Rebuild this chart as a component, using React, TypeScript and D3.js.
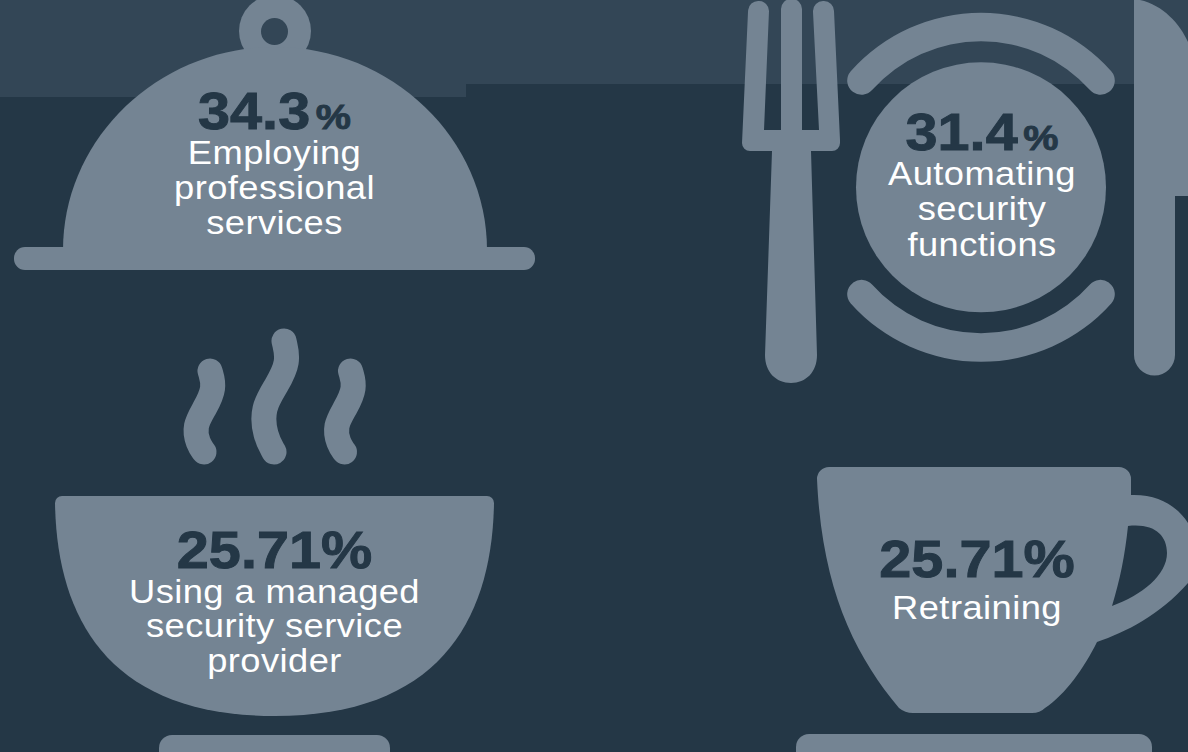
import React from "react";
import * as d3 from "d3";

const width = 1188;
const height = 752;

const bg = "#243746";
const band = "#334656";
const iconFill = "#748493";

// one entry per icon: bell, plate, bowl, cup
const values = ["34.3", "31.4", "25.71", "25.71"];
const labels = [
  ["Employing", "professional", "services"],
  ["Automating", "security", "functions"],
  ["Using a managed", "security service", "provider"],
  ["Retraining"],
];
const centers = [274.5, 982, 274.5, 977];
const numberBaselines = [128.5, 150, 568, 576.5];
const labelBaselines = [163.5, 184.5, 602.5, 618.5];
const lineSteps = [35, 35.7, 34.6, 35];
const smallPercent = [true, true, false, false];

const steamLeft: [number, number][] = [[210, 371], [215, 388], [205, 408], [194, 426], [198, 444], [204, 452]];
const steamMid: [number, number][] = [[284, 341], [289, 362], [277, 385], [262, 408], [265, 436], [274, 452]];
const steamRight: [number, number][] = steamLeft.map(([x, y]) => [x + 140.5, y]);

const bandPath = () => {
  const p = d3.path();
  p.moveTo(0, 0);
  p.lineTo(width, 0);
  p.lineTo(width, 84);
  p.lineTo(466, 84);
  p.lineTo(466, 97);
  p.lineTo(0, 97);
  p.closePath();
  return p.toString();
};

const bellDome = () => {
  const p = d3.path();
  p.moveTo(63, 250);
  p.bezierCurveTo(63, 139, 158, 47, 275, 47);
  p.bezierCurveTo(392, 47, 487, 139, 487, 250);
  p.closePath();
  return p.toString();
};

const forkPath = () => {
  const p = d3.path();
  p.moveTo(748, 12);
  p.arcTo(749, 1, 758, 1, 10);
  p.arcTo(769, 1, 769, 12, 10);
  p.lineTo(764, 130);
  p.lineTo(781, 130);
  p.lineTo(781, 10);
  p.arcTo(781, -1, 791, -1, 10);
  p.arcTo(802, -1, 802, 10, 10);
  p.lineTo(802, 130);
  p.lineTo(819, 130);
  p.lineTo(813, 12);
  p.arcTo(813, 1, 824, 1, 10);
  p.arcTo(834, 1, 834, 12, 10);
  p.lineTo(840, 140);
  p.arcTo(840, 151, 829, 151, 8);
  p.lineTo(811, 151);
  p.lineTo(817, 355);
  p.bezierCurveTo(817, 372, 806, 383, 791, 383);
  p.bezierCurveTo(776, 383, 765, 372, 765, 355);
  p.lineTo(772, 151);
  p.lineTo(753, 151);
  p.arcTo(742, 151, 742, 140, 8);
  p.closePath();
  return p.toString();
};

const knifePath = () => {
  const p = d3.path();
  p.moveTo(1134, 0);
  p.lineTo(1140, 0);
  p.bezierCurveTo(1163, 5, 1180, 24, 1188, 42);
  p.lineTo(1188, 196);
  p.lineTo(1175, 196);
  p.lineTo(1175, 355);
  p.arc(1154.5, 355, 20.5, 0, Math.PI);
  p.closePath();
  return p.toString();
};

const bowlPath = () => {
  const p = d3.path();
  p.moveTo(62, 496);
  p.lineTo(487, 496);
  p.arcTo(494, 496, 494, 503, 7);
  p.bezierCurveTo(492, 620, 439, 716, 274.5, 716);
  p.bezierCurveTo(110, 716, 57, 620, 55, 503);
  p.arcTo(55, 496, 62, 496, 7);
  p.closePath();
  return p.toString();
};

const cupPath = () => {
  const p = d3.path();
  p.moveTo(829, 467);
  p.lineTo(1119, 467);
  p.arcTo(1131, 467, 1131, 479, 12);
  p.lineTo(1131, 495);
  p.bezierCurveTo(1158, 494, 1177, 506, 1188, 523);
  p.lineTo(1188, 583);
  p.bezierCurveTo(1160, 615, 1126, 632, 1097, 642);
  p.bezierCurveTo(1084, 668, 1065, 695, 1045, 708);
  p.quadraticCurveTo(1040, 713, 1032, 713);
  p.lineTo(913, 713);
  p.quadraticCurveTo(905, 713, 899, 708);
  p.bezierCurveTo(855, 655, 822, 590, 817, 479);
  p.arcTo(817, 467, 829, 467, 12);
  p.closePath();
  // handle opening
  p.moveTo(1128, 526);
  p.bezierCurveTo(1154, 523, 1167, 535, 1167, 553);
  p.bezierCurveTo(1167, 575, 1142, 595, 1112, 606);
  p.bezierCurveTo(1120, 580, 1125, 555, 1128, 526);
  p.closePath();
  return p.toString();
};

const steamLine = d3.line().curve(d3.curveBasis);

const rim = d3.arc().innerRadius(146).outerRadius(174.5).cornerRadius(14);
const rimTop = rim({ startAngle: -0.93, endAngle: 0.93 } as any) as string;
const rimBottom = rim({ startAngle: Math.PI - 0.93, endAngle: Math.PI + 0.93 } as any) as string;

export default function App() {
  return (
    <svg
      width={width}
      height={height}
      viewBox={`0 0 ${width} ${height}`}
      style={{ position: "fixed", left: 0, top: 0, display: "block" }}
    >
      <rect width={width} height={height} fill={bg} />
      <path d={bandPath()} fill={band} />

      {/* bell */}
      <g fill={iconFill}>
        <circle cx={275} cy={31} r={36} />
        <path d={bellDome()} />
        <rect x={14} y={247} width={521} height={23} rx={11} />
      </g>
      <circle cx={274.5} cy={31.5} r={13.5} fill={band} />

      {/* plate and cutlery */}
      <g fill={iconFill}>
        <path d={forkPath()} />
        <path d={knifePath()} />
        <circle cx={981} cy={187.3} r={125} />
        <path d={rimTop} transform="translate(981,187.3)" />
        <path d={rimBottom} transform="translate(981,187.3)" />
      </g>

      {/* bowl */}
      <g fill="none" stroke={iconFill} strokeWidth={25} strokeLinecap="round">
        <path d={steamLine(steamLeft) as string} />
        <path d={steamLine(steamMid) as string} />
        <path d={steamLine(steamRight) as string} />
      </g>
      <path d={bowlPath()} fill={iconFill} />
      <rect x={159} y={735} width={231} height={40} rx={13} fill={iconFill} />

      {/* cup */}
      <path d={cupPath()} fill={iconFill} fillRule="evenodd" />
      <rect x={796} y={734} width={356} height={40} rx={13} fill={iconFill} />

      {values.map((v, i) => (
        <g key={i} fontFamily="'Liberation Sans', Arial, sans-serif" textAnchor="middle">
          <text
            transform={`translate(${centers[i]},${numberBaselines[i]}) scale(1.13,1)`}
            fontSize={51}
            fontWeight={700}
            fill={bg}
            stroke={bg}
            strokeWidth={0.9}
          >
            {v}
            <tspan fontSize={smallPercent[i] ? 35 : 51} dx={smallPercent[i] ? 5 : 0}>%</tspan>
          </text>
          {labels[i].map((line, j) => (
            <text
              key={j}
              transform={`translate(${centers[i]},${labelBaselines[i] + j * lineSteps[i]}) scale(1.1,1)`}
              fontSize={33}
              letterSpacing={0.4}
              fill="#ffffff"
            >
              {line}
            </text>
          ))}
        </g>
      ))}
    </svg>
  );
}
